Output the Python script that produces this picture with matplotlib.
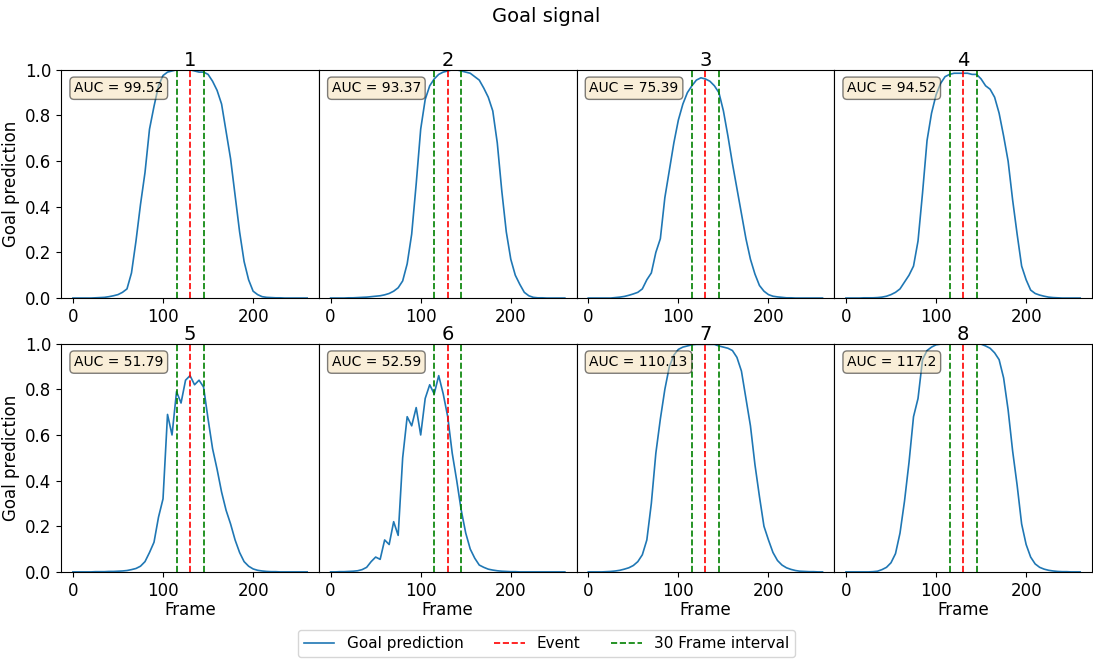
import numpy as np
import matplotlib
matplotlib.use("Agg")
import matplotlib.pyplot as plt

# frame index of every sample (one value read every 5 frames)
frames = np.arange(0, 261, 5)

goal_1 = [0, 0, 0, 0, 0, 0.001, 0.002, 0.003, 0.006, 0.01,
          0.015, 0.025, 0.04, 0.11, 0.25, 0.41, 0.55, 0.74, 0.84, 0.93,
          0.975, 0.99, 0.995, 1.0, 1.0, 1.0, 1.0, 0.995, 0.99, 0.99,
          0.98, 0.95, 0.91, 0.85, 0.73, 0.61, 0.45, 0.29, 0.16, 0.08,
          0.03, 0.015, 0.006, 0.003, 0.002, 0.001, 0.001, 0, 0, 0,
          0, 0, 0]
goal_2 = [0, 0, 0, 0, 0.001, 0.001, 0.002, 0.003, 0.004, 0.006,
          0.008, 0.01, 0.014, 0.02, 0.03, 0.045, 0.075, 0.15, 0.28, 0.50,
          0.74, 0.87, 0.93, 0.96, 0.98, 0.99, 0.995, 1.0, 1.0, 0.995,
          0.99, 0.985, 0.97, 0.955, 0.92, 0.88, 0.82, 0.68, 0.47, 0.29,
          0.17, 0.10, 0.06, 0.025, 0.01, 0.003, 0.001, 0.001, 0, 0,
          0, 0, 0]
goal_3 = [0, 0, 0, 0, 0, 0, 0.002, 0.004, 0.007, 0.012,
          0.018, 0.025, 0.04, 0.08, 0.11, 0.20, 0.26, 0.44, 0.56, 0.68,
          0.78, 0.85, 0.90, 0.93, 0.955, 0.965, 0.96, 0.95, 0.93, 0.90,
          0.82, 0.71, 0.59, 0.48, 0.37, 0.26, 0.17, 0.105, 0.055, 0.03,
          0.015, 0.008, 0.005, 0.003, 0.001, 0.001, 0, 0, 0, 0,
          0, 0, 0]
goal_4 = [0, 0, 0, 0, 0.001, 0.001, 0.001, 0.002, 0.004, 0.008,
          0.015, 0.025, 0.04, 0.07, 0.10, 0.14, 0.25, 0.46, 0.69, 0.81,
          0.89, 0.94, 0.97, 0.98, 0.985, 0.985, 0.985, 0.985, 0.98, 0.98,
          0.96, 0.93, 0.915, 0.88, 0.81, 0.71, 0.60, 0.43, 0.28, 0.14,
          0.08, 0.035, 0.02, 0.013, 0.008, 0.004, 0.002, 0.001, 0, 0,
          0, 0, 0]
goal_5 = [0, 0, 0, 0, 0, 0.001, 0.001, 0.001, 0.002, 0.002,
          0.003, 0.004, 0.006, 0.01, 0.015, 0.025, 0.045, 0.085, 0.13, 0.24,
          0.32, 0.69, 0.60, 0.79, 0.74, 0.84, 0.86, 0.82, 0.84, 0.81,
          0.67, 0.54, 0.45, 0.35, 0.27, 0.21, 0.14, 0.085, 0.045, 0.025,
          0.013, 0.007, 0.004, 0.002, 0.001, 0.001, 0, 0, 0, 0,
          0, 0, 0]
goal_6 = [0, 0, 0.001, 0.001, 0.002, 0.003, 0.005, 0.01, 0.02, 0.045,
          0.065, 0.055, 0.14, 0.12, 0.22, 0.16, 0.50, 0.68, 0.64, 0.72,
          0.60, 0.76, 0.82, 0.78, 0.86, 0.78, 0.68, 0.52, 0.40, 0.27,
          0.17, 0.10, 0.06, 0.03, 0.02, 0.012, 0.008, 0.005, 0.003, 0.002,
          0.001, 0.001, 0, 0, 0, 0, 0, 0, 0, 0,
          0, 0, 0]
goal_7 = [0, 0, 0, 0, 0.001, 0.002, 0.004, 0.007, 0.012, 0.018,
          0.028, 0.045, 0.075, 0.14, 0.30, 0.52, 0.67, 0.80, 0.90, 0.95,
          0.975, 0.985, 0.99, 0.995, 0.997, 0.997, 0.997, 0.997, 0.997, 0.99,
          0.985, 0.98, 0.97, 0.94, 0.88, 0.76, 0.64, 0.47, 0.33, 0.20,
          0.14, 0.085, 0.05, 0.03, 0.018, 0.011, 0.006, 0.003, 0.002, 0.001,
          0.001, 0, 0]
goal_8 = [0, 0, 0, 0, 0, 0, 0.001, 0.003, 0.01, 0.02,
          0.04, 0.08, 0.17, 0.31, 0.48, 0.68, 0.76, 0.93, 0.97, 0.985,
          0.995, 0.998, 0.998, 0.998, 0.998, 0.998, 0.998, 0.998, 0.998, 0.998,
          0.998, 0.99, 0.98, 0.96, 0.93, 0.85, 0.71, 0.53, 0.38, 0.21,
          0.12, 0.065, 0.035, 0.02, 0.012, 0.007, 0.004, 0.002, 0.001, 0.001,
          0, 0, 0]

goals = [goal_1, goal_2, goal_3, goal_4, goal_5, goal_6, goal_7, goal_8]
auc = ["99.52", "93.37", "75.39", "94.52", "51.79", "52.59", "110.13", "117.2"]
titles = ["1", "2", "3", "4", "5", "6", "7", "8"]

event_frame = 130
interval = 30

fig, axes = plt.subplots(2, 4, figsize=(10.93, 6.65), dpi=100, sharey=True)
fig.subplots_adjust(left=0.056, right=0.999, top=0.895, bottom=0.14,
                    wspace=0, hspace=0.2)

for i, ax in enumerate(axes.flat):
    ax.plot(frames, goals[i], color="C0", lw=1.2, label="Goal prediction")
    ax.axvline(event_frame, color="r", ls="--", lw=1.2, label="Event")
    ax.axvline(event_frame - interval / 2, color="g", ls="--", lw=1.2,
               label="30 Frame interval")
    ax.axvline(event_frame + interval / 2, color="g", ls="--", lw=1.2)
    ax.set_ylim(0, 1)
    ax.set_title(titles[i], fontsize=14, pad=3)
    ax.tick_params(labelsize=12)
    ax.text(0.05, 0.95, "AUC = " + auc[i], transform=ax.transAxes,
            fontsize=10, va="top",
            bbox=dict(boxstyle="round", facecolor="wheat", alpha=0.5))
    if i % 4 == 0:
        ax.set_ylabel("Goal prediction", fontsize=12)
    else:
        ax.tick_params(axis="y", left=False)
    if i >= 4:
        ax.set_xlabel("Frame", fontsize=12, labelpad=1)

handles, labels = axes[0, 0].get_legend_handles_labels()
fig.legend(handles, labels, loc="lower center", ncol=3, fontsize=11,
           bbox_to_anchor=(0.5, 0.0))
fig.suptitle("Goal signal", fontsize=14, y=0.99)

plt.savefig("out.png")
